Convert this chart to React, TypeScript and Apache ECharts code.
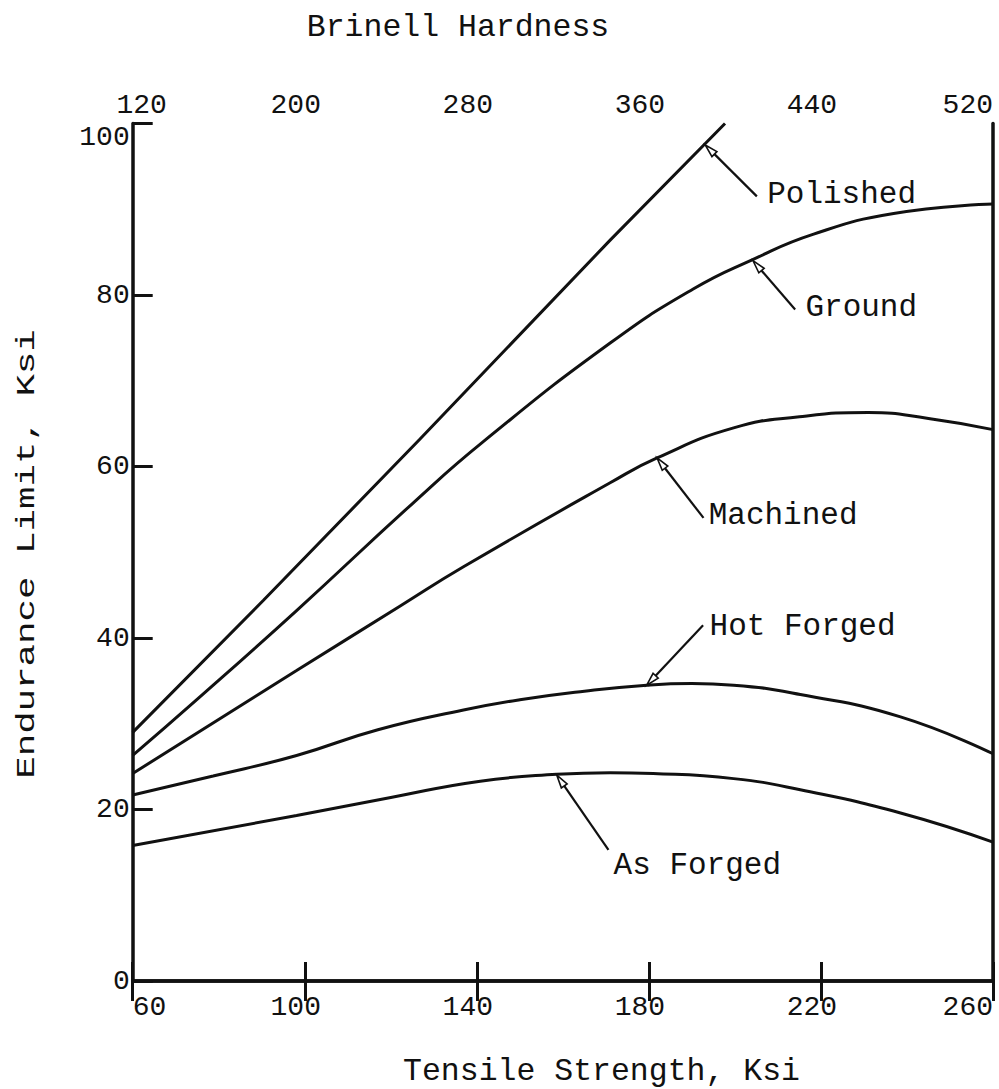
import React, { useEffect, useRef } from "react";
import * as echarts from "echarts";

// Tick values
const tensileTicks = [60, 100, 140, 180, 220, 260];
const brinellTicks = [120, 200, 280, 360, 440, 520];
const enduranceTicks = [0, 20, 40, 60, 80, 100];

// Curves: [tensile strength ksi, endurance limit ksi]
const polished = [[60, 29.0], [90.4, 44.4], [126.8, 63.2], [171, 86.4], [197.7, 100]];
const ground = [[60, 26.3], [74.9, 32.8], [98.1, 43.2], [125.3, 55.8], [141.5, 62.9], [171, 74.4], [190.3, 80.7], [204, 84.1], [218.3, 87.1], [236.9, 89.5], [260, 90.6]];
const machined = [[60, 24.2], [98.1, 36.2], [122.1, 43.7], [136.9, 48.3], [171, 58.1], [181.9, 61.0], [199.7, 64.5], [215, 65.8], [231, 66.3], [245, 65.6], [260, 64.3]];
const hotForged = [[60, 21.7], [78.7, 23.9], [98.1, 26.3], [117, 29.3], [136.9, 31.6], [150, 32.8], [165, 33.8], [179.5, 34.5], [190, 34.7], [199.7, 34.5], [215.2, 33.4], [238.5, 30.8], [260, 26.5]];
const asForged = [[60, 15.8], [98.1, 19.3], [120, 21.4], [140.8, 23.3], [158.6, 24.1], [171, 24.3], [181, 24.2], [199.7, 23.6], [215.2, 22.3], [238.5, 19.6], [260, 16.2]];

const seriesNames = ["Polished", "Ground", "Machined", "Hot Forged", "As Forged"];
const seriesData = [polished, ground, machined, hotForged, asForged];

// Annotation arrows (data coordinates)
const arrowTips = [[193.1, 97.5], [204.2, 84.0], [181.9, 61.0], [179.5, 34.5], [158.6, 24.0]];
const arrowTails = [[205.1, 91.5], [214.0, 78.3], [192.7, 54.0], [192.6, 41.5], [170.6, 15.3]];
const labelAnchors = [[207.5, 91.7], [216.4, 78.6], [193.9, 54.3], [194.1, 41.3], [171.8, 13.5]];

export default function App() {
  const ref = useRef<HTMLDivElement>(null);

  useEffect(() => {
    const chart = echarts.init(ref.current!, null, { renderer: "svg" });
    const font = "'Liberation Mono', 'DejaVu Sans Mono', monospace";
    const ink = "#111";
    const tickSize = 28;

    const richBase = { fontFamily: font, fontSize: tickSize, color: ink };

    const option: any = {
      animation: false,
      backgroundColor: "#ffffff",
      grid: {
        left: 132.7,
        right: 6,
        top: 123.5,
        bottom: 108,
        containLabel: false,
        outerBoundsMode: "none",
      },
      xAxis: [
        {
          type: "value",
          position: "bottom",
          min: tensileTicks[0],
          max: tensileTicks[tensileTicks.length - 1],
          interval: 40,
          axisLine: { show: true, lineStyle: { color: ink, width: 3.5 } },
          axisTick: { show: true, inside: true, length: 19, lineStyle: { color: ink, width: 3 } },
          splitLine: { show: false },
          axisLabel: {
            margin: 12,
            fontFamily: font,
            fontSize: tickSize,
            color: ink,
            alignMinLabel: "left",
            alignMaxLabel: "right",
            formatter: (v: number) =>
              v === tensileTicks[0] || v === tensileTicks[tensileTicks.length - 1] ? String(v) : `{p|${v}}`,
            rich: { p: { ...richBase, padding: [0, 18, 0, 0] } },
          },
        },
        {
          type: "value",
          position: "top",
          min: brinellTicks[0],
          max: brinellTicks[brinellTicks.length - 1],
          interval: 80,
          axisLine: { show: true, lineStyle: { color: ink, width: 3.5 } },
          axisTick: { show: true, inside: true, length: 20, lineStyle: { color: ink, width: 3 } },
          splitLine: { show: false },
          axisLabel: {
            margin: 4,
            fontFamily: font,
            fontSize: tickSize,
            color: ink,
            alignMaxLabel: "right",
            formatter: (v: number) =>
              v === brinellTicks[0]
                ? `{q|${v}}`
                : v === brinellTicks[brinellTicks.length - 1]
                ? String(v)
                : `{p|${v}}`,
            rich: {
              p: { ...richBase, padding: [0, 18, 0, 0] },
              q: { ...richBase, padding: [0, 0, 0, 18] },
            },
          },
        },
      ],
      yAxis: [
        {
          type: "value",
          position: "left",
          min: enduranceTicks[0],
          max: enduranceTicks[enduranceTicks.length - 1],
          interval: 20,
          axisLine: { show: true, lineStyle: { color: ink, width: 3.5 } },
          axisTick: { show: true, inside: true, length: 20, lineStyle: { color: ink, width: 3 } },
          splitLine: { show: false },
          axisLabel: {
            margin: 3,
            fontFamily: font,
            fontSize: tickSize,
            color: ink,
            verticalAlignMaxLabel: "top",
          },
        },
        {
          type: "value",
          position: "right",
          min: 0,
          max: 100,
          axisLine: { show: true, lineStyle: { color: ink, width: 3.5 } },
          axisTick: { show: false },
          axisLabel: { show: false },
          splitLine: { show: false },
        },
      ],
      series: seriesNames.map((name, i) => ({
        name,
        type: "line",
        xAxisIndex: 0,
        yAxisIndex: 0,
        data: seriesData[i],
        showSymbol: false,
        symbol: "none",
        smooth: i === 0 ? false : 0.5,
        clip: true,
        lineStyle: { color: ink, width: 3 },
      })),
    };

    chart.setOption(option);

    const toPx = (p: number[]) =>
      chart.convertToPixel({ xAxisIndex: 0, yAxisIndex: 0 }, p) as number[];

    const graphics: any[] = [];
    seriesNames.forEach((name, i) => {
      const tip = toPx(arrowTips[i]);
      const tail = toPx(arrowTails[i]);
      const dx = tip[0] - tail[0];
      const dy = tip[1] - tail[1];
      const len = Math.sqrt(dx * dx + dy * dy);
      const ux = dx / len;
      const uy = dy / len;
      const nx = -uy;
      const ny = ux;
      const headL = 13;
      const headW = 3.5;
      const base = [tip[0] - ux * headL, tip[1] - uy * headL];
      graphics.push({
        type: "line",
        shape: { x1: tail[0], y1: tail[1], x2: base[0], y2: base[1] },
        style: { stroke: ink, lineWidth: 2.2 },
        silent: true,
      });
      graphics.push({
        type: "polygon",
        shape: {
          points: [
            [tip[0], tip[1]],
            [base[0] + nx * headW, base[1] + ny * headW],
            [base[0] - nx * headW, base[1] - ny * headW],
          ],
        },
        style: { fill: "#fff", stroke: ink, lineWidth: 1.6 },
        silent: true,
      });
      const la = toPx(labelAnchors[i]);
      graphics.push({
        type: "text",
        x: la[0],
        y: la[1],
        style: {
          text: name,
          fontFamily: font,
          fontSize: 31,
          fill: ink,
          align: "left",
          verticalAlign: "middle",
        },
        silent: true,
      });
    });

    // Axis titles
    graphics.push({
      type: "text",
      x: 458,
      y: 27,
      style: {
        text: "Brinell Hardness",
        fontFamily: font,
        fontSize: 31.5,
        fill: ink,
        align: "center",
        verticalAlign: "middle",
      },
    });
    graphics.push({
      type: "text",
      x: 601.5,
      y: 1071,
      style: {
        text: "Tensile Strength, Ksi",
        fontFamily: font,
        fontSize: 31.5,
        fill: ink,
        align: "center",
        verticalAlign: "middle",
      },
    });
    graphics.push({
      type: "text",
      x: 27,
      y: 554,
      rotation: Math.PI / 2,
      scaleX: 1.19,
      scaleY: 0.8,
      style: {
        text: "Endurance Limit, Ksi",
        fontFamily: font,
        fontSize: 31.5,
        fill: ink,
        align: "center",
        verticalAlign: "middle",
      },
    });

    chart.setOption({ graphic: graphics });

    return () => {
      chart.dispose();
    };
  }, []);

  return (
    <div
      ref={ref}
      style={{ position: "fixed", left: 0, top: 0, width: 999, height: 1089, background: "#fff" }}
    />
  );
}
